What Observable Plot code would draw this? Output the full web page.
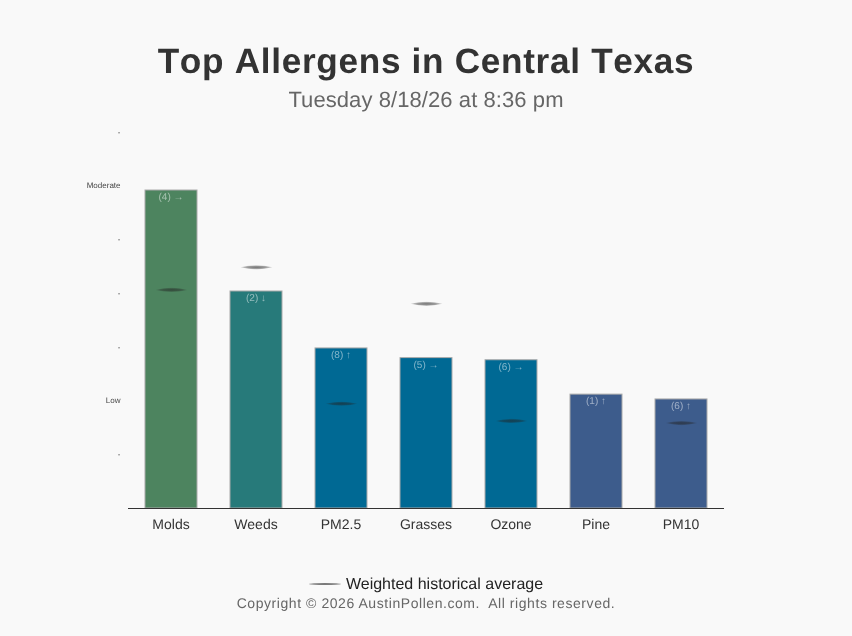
<!DOCTYPE html>
<html><head><meta charset="utf-8">
<script src="https://cdn.jsdelivr.net/npm/d3@7"></script>
<script src="https://cdn.jsdelivr.net/npm/@observablehq/plot@0.6"></script>
<style>
html,body{margin:0;padding:0;background:#f9f9f9;font-family:"Liberation Sans",Arial,sans-serif;text-rendering:geometricPrecision}
#page{width:852px;height:636px;position:relative;overflow:hidden}
#title,#sub,#chart,#legend,#copy{will-change:transform}
#title{position:absolute;top:40px;left:0;width:852px;text-align:center;font-size:35.2px;font-weight:700;color:#333;letter-spacing:.68px;line-height:44px;font-kerning:none}
#sub{position:absolute;top:86px;left:0;width:852px;text-align:center;font-size:22px;color:#666;letter-spacing:.08px;line-height:28px}
#chart{position:absolute;top:120px;left:0}
#legend{position:absolute;top:575px;left:0;width:852px;text-align:center;font-size:16px;color:#222;line-height:20px}
#swatch{display:inline-block;width:32px;height:2px;margin-right:5px;vertical-align:middle;position:relative;top:-1px;border-radius:50%;background:radial-gradient(ellipse at center,#666 0%,#888 60%,rgba(136,136,136,.6) 100%)}
#copy{position:absolute;top:595px;left:0;width:852px;text-align:center;font-size:14px;color:#666;letter-spacing:.56px;line-height:17px;white-space:pre}
</style></head>
<body><div id="page">
<div id="title">Top Allergens in Central Texas</div>
<div id="sub">Tuesday 8/18/26 at 8:36 pm</div>
<div id="chart"></div>
<div id="legend"><span id="swatch"></span>Weighted historical average</div>
<div id="copy">Copyright © 2026 AustinPollen.com.  All rights reserved.</div>
</div>
<script>
const categories = ["Molds","Weeds","PM2.5","Grasses","Ozone","Pine","PM10"];
const levels     = [5.92,4.04,2.98,2.80,2.76,2.12,2.03];
const historical = [4.07,4.49,1.95,3.81,1.63,null,1.59];
const labels     = ["(4) →","(2) ↓","(8) ↑","(5) →","(6) →","(1) ↑","(6) ↑"];
const palette    = ["#4d845f","#277a7a","#006994","#006994","#006994","#3d5c8c","#3d5c8c"];
const yTicks     = [1,2,3,4,5,6,7];
const yTickText  = ["-","Low","-","-","-","Moderate","-"];

const rows = categories.map((c,i)=>({category:c,level:levels[i],hist:historical[i],label:labels[i]}));

// thin lens-shaped symbol for the historical average marker
const lens = {draw(ctx,size){
  const w=Math.sqrt(size), h=w*0.13;
  ctx.moveTo(-w,0);
  ctx.quadraticCurveTo(0,-h*2,w,0);
  ctx.quadraticCurveTo(0,h*2,-w,0);
  ctx.closePath();
}};

const plot = Plot.plot({
  width:852, height:420,
  marginLeft:128, marginRight:128, marginTop:12, marginBottom:32,
  style:{background:"transparent",fontFamily:"'Liberation Sans',Arial,sans-serif"},
  x:{domain:categories,paddingInner:0.39,paddingOuter:0.195,label:null},
  y:{domain:[0,7],label:null},
  color:{domain:categories,range:palette},
  marks:[
    Plot.axisY({ticks:yTicks,tickFormat:d=>yTickText[yTicks.indexOf(d)],tickSize:0,tickPadding:8,fontSize:8,color:"#444",label:null,dy:-0.4}),
    Plot.axisX({tickSize:0,tickPadding:11,fontSize:14,color:"#333",label:null,dx:-0.5}),
    Plot.barY(rows,{x:"category",y:"level",fill:"category",stroke:"#aaa",strokeWidth:1}),
    Plot.text(rows,{x:"category",y:"level",text:"label",dy:6.5,dx:-0.5,fontSize:10,fill:"#fff",fillOpacity:0.5}),
    Plot.dot(rows.filter(d=>d.hist!=null),{x:"category",y:"hist",symbol:lens,r:9,fill:"url(#lensFill)",stroke:"none"}),
    Plot.ruleY([0],{stroke:"#333",strokeWidth:1})
  ]
});
const defs = d3.select(plot).insert("defs",":first-child");
const g = defs.append("radialGradient").attr("id","lensFill");
g.append("stop").attr("offset","0%").attr("stop-color","#222").attr("stop-opacity",0.6);
g.append("stop").attr("offset","55%").attr("stop-color","#222").attr("stop-opacity",0.45);
g.append("stop").attr("offset","100%").attr("stop-color","#222").attr("stop-opacity",0.15);
document.getElementById("chart").appendChild(plot);
</script>
</body></html>
